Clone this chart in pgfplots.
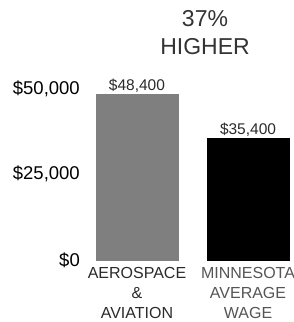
\documentclass[border=0pt]{standalone}
\usepackage{fontspec}
\setmainfont{Liberation Sans}
\usepackage{pgfplots}
\pgfplotsset{compat=1.18}
\definecolor{barA}{HTML}{7F7F7F}
\definecolor{labA}{HTML}{2A2A2A}
\definecolor{labB}{HTML}{555555}
\begin{document}
\begin{tikzpicture}[x=1pt,y=1pt]
\path[use as bounding box] (0,0) rectangle (294,322);
\begin{axis}[
  at={(90pt,62pt)}, anchor=south west,
  scale only axis, width=202pt, height=171.5pt,
  xmin=-0.423, xmax=1.396, ymin=0, ymax=50000,
  clip=false,
  axis line style={draw=none},
  major tick length=0pt,
  scaled y ticks=false,
  xtick={0,1},
  xticklabels={{\textcolor{labA}{AEROSPACE}\\\textcolor{labA}{\&}\\\textcolor{labA}{AVIATION}},
               {\textcolor{labB}{MINNESOTA}\\\textcolor{labB}{AVERAGE}\\\textcolor{labB}{WAGE}}},
  xticklabel style={align=center, font=\fontsize{16}{20}\selectfont, inner sep=0pt, yshift=-7.5pt},
  ytick={0,25000,50000},
  yticklabels={{\$0},{\$25,000},{\$50,000}},
  yticklabel style={font=\fontsize{18.5}{20}\selectfont, inner sep=0pt, xshift=-10pt},
  /pgf/number format/assume math mode=true,
  point meta=explicit symbolic,
  nodes near coords,
  every node near coord/.append style={font=\fontsize{15.5}{16}\selectfont, anchor=south, inner sep=1.5pt, text=labA},
]
\addplot[ybar, bar width=82pt, fill=barA, draw=barA] coordinates {(0,48400)[\$48,400]};
\addplot[ybar, bar width=82pt, fill=black, draw=black] coordinates {(1,35400)[\$35,400]};
\end{axis}
\node[align=center, font=\fontsize{23}{28}\selectfont, text=black!80] at (205,289) {37\%\\HIGHER};
\end{tikzpicture}
\end{document}
